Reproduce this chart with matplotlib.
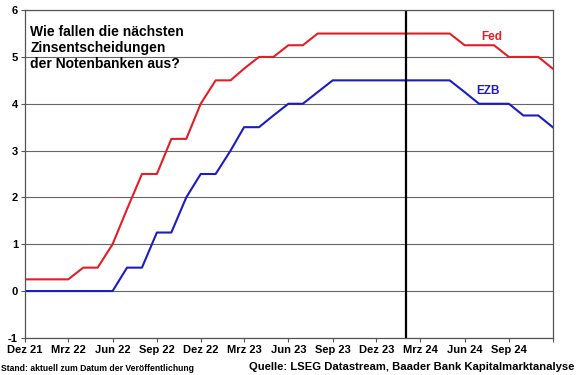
import pandas as pd
import matplotlib
matplotlib.use('Agg')
import matplotlib.pyplot as plt

plt.rcParams['font.family'] = ['Liberation Sans', 'DejaVu Sans']
plt.rcParams['font.weight'] = 'bold'
plt.rcParams['axes.unicode_minus'] = False

# Monatswerte Dez 21 .. Dez 24
monate = pd.date_range('2021-12-01', periods=37, freq='MS')
fed = [0.25, 0.25, 0.25, 0.25, 0.5, 0.5, 1.0, 1.75, 2.5, 2.5, 3.25, 3.25,
       4.0, 4.5, 4.5, 4.75, 5.0, 5.0, 5.25, 5.25, 5.5, 5.5, 5.5, 5.5,
       5.5, 5.5, 5.5, 5.5, 5.5, 5.5, 5.25, 5.25, 5.25, 5.0, 5.0, 5.0, 4.75]
ezb = [0, 0, 0, 0, 0, 0, 0, 0.5, 0.5, 1.25, 1.25, 2.0,
       2.5, 2.5, 3.0, 3.5, 3.5, 3.75, 4.0, 4.0, 4.25, 4.5, 4.5, 4.5,
       4.5, 4.5, 4.5, 4.5, 4.5, 4.5, 4.25, 4.0, 4.0, 4.0, 3.75, 3.75, 3.5]
tick_daten = pd.date_range('2021-12-01', periods=13, freq='3MS')
tick_labels = ['Dez 21', 'Mrz 22', 'Jun 22', 'Sep 22', 'Dez 22', 'Mrz 23', 'Jun 23',
               'Sep 23', 'Dez 23', 'Mrz 24', 'Jun 24', 'Sep 24', '']
heute = pd.Timestamp('2024-02-01')

fig = plt.figure(figsize=(5.8, 3.75), dpi=100)
ax = fig.add_axes([0.043, 0.099, 0.91, 0.874])

ax.plot(monate, fed, color='#e41e26', lw=1.5)
ax.plot(monate, ezb, color='#1c1cc0', lw=1.5)
ax.axvline(heute, color='black', lw=1.6)

ax.set_xlim(monate[0], monate[-1])
ax.set_ylim(-1, 6)
ax.set_yticks(range(-1, 7))
ax.set_xticks(tick_daten)
ax.set_xticklabels(tick_labels)
ax.tick_params(axis='both', labelsize=8, length=3, color='#555555', pad=2)
ax.grid(axis='y', color='#666666', lw=0.8)
ax.set_axisbelow(True)
for s in ax.spines.values():
    s.set_color('#555555')
    s.set_linewidth(0.9)

ax.text(0.01, 0.955, 'Wie fallen die nächsten\nZinsentscheidungen\nder Notenbanken aus?',
        transform=ax.transAxes, fontsize=10, fontweight='bold', va='top',
        linespacing=1.2)
ax.text(pd.Timestamp('2024-07-05'), 5.36, 'Fed', color='#e41e26', fontsize=8.5,
        fontweight='bold')
ax.text(pd.Timestamp('2024-06-25'), 4.2, 'EZB', color='#1c1cc0', fontsize=8.5,
        fontweight='bold')

fig.text(0.002, 0.01, 'Stand: aktuell zum Datum der Veröffentlichung', fontsize=6.2,
         fontweight='bold')
fig.text(0.99, 0.012, 'Quelle: LSEG Datastream, Baader Bank Kapitalmarktanalyse',
         fontsize=8.1, fontweight='bold', ha='right')

fig.savefig('out.png', dpi=100)
